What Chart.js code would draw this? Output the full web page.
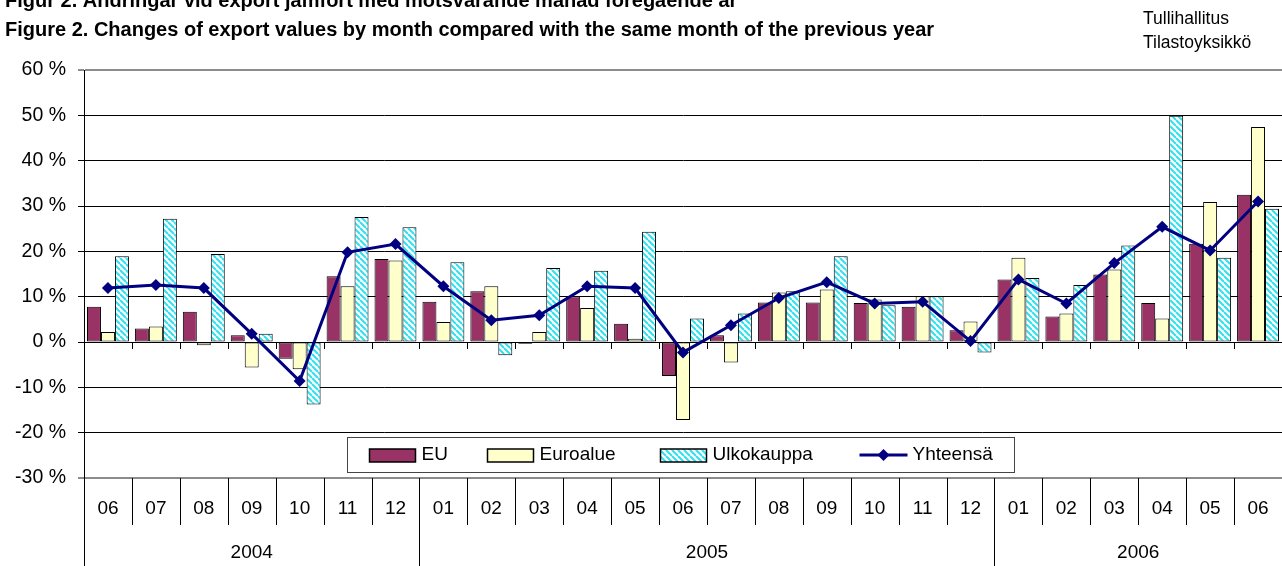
<!DOCTYPE html>
<html>
<head>
<meta charset="utf-8">
<script src="https://cdn.jsdelivr.net/npm/chart.js@4/dist/chart.umd.min.js"></script>
<style>
  html, body { margin: 0; padding: 0; background: #fff; }
  #wrap { width: 1282px; height: 566px; }
</style>
</head>
<body>
<div id="wrap"><canvas id="myChart" width="1282" height="566"></canvas></div>
<script>
//////////// Data ////////////
const months = ['06','07','08','09','10','11','12',
                '01','02','03','04','05','06','07','08','09','10','11','12',
                '01','02','03','04','05','06'];
const years = ['2004', '2005', '2006'];
const yearSpans = [7, 12, 6];   // months per year in the axis

const euValues   = [7.8, 3.0, 6.7, 1.5, -3.7, 14.5, 18.3,
                    8.9, 11.2, -0.4, 10.1, 4.0, -7.5, 1.5, 8.7, 8.7, 8.6, 7.8, 2.6,
                    13.8, 5.6, 14.9, 8.6, 21.7, 32.5];
const euroValues = [2.2, 3.4, -0.7, -5.6, -6.0, 12.3, 18.0,
                    4.4, 12.3, 2.2, 7.5, 0.7, -17.2, -4.5, 10.9, 11.6, 9.4, 10.1, 4.5,
                    18.6, 6.3, 16.0, 5.2, 30.9, 47.4];
const ulkoValues = [18.9, 27.2, 19.4, 1.8, -13.8, 27.6, 25.3,
                    17.6, -2.9, 16.3, 15.7, 24.3, 5.2, 6.3, 11.2, 18.9, 8.1, 10.1, -2.3,
                    14.1, 12.6, 21.3, 49.9, 18.6, 29.4];
const totalValues = [11.9, 12.6, 11.9, 1.8, -8.6, 19.8, 21.6,
                     12.3, 4.8, 5.9, 12.3, 11.9, -2.3, 3.7, 9.7, 13.2, 8.5, 8.9, 0.2,
                     13.8, 8.5, 17.4, 25.4, 20.2, 31.0];

const titleSv = 'Figur 2. Ändringar vid export jämfört med motsvarande månad föregående år';
const titleEn = 'Figure 2. Changes of export values by month compared with the same month of the previous year';
const sourceLines = ['Tullihallitus', 'Tilastoyksikkö'];

const FONT = '"Liberation Sans", Arial, sans-serif';

//////////// Hatch pattern for Ulkokauppa ////////////
function makeHatch() {
    const n = 6;
    const c = document.createElement('canvas');
    c.width = n; c.height = n;
    const g = c.getContext('2d');
    g.fillStyle = '#fff';
    g.fillRect(0, 0, n, n);
    g.strokeStyle = '#2FE0F0';
    g.lineWidth = 2;
    for (const k of [-n, 0, n]) {
        g.beginPath();
        g.moveTo(k, 0);
        g.lineTo(k + n, n);
        g.stroke();
    }
    return document.getElementById('myChart').getContext('2d').createPattern(c, 'repeat');
}
const hatch = makeHatch();

//////////// Titles ////////////
const titles = {
    id: 'titles',
    afterDraw(chart) {
        const { ctx } = chart;
        ctx.save();
        ctx.fillStyle = '#000';
        ctx.textBaseline = 'alphabetic';
        ctx.textAlign = 'left';
        ctx.font = 'bold 20px ' + FONT;
        ctx.fillText(titleSv, 5, 7);
        ctx.fillText(titleEn, 5, 36);
        ctx.font = '17.5px ' + FONT;
        ctx.fillText(sourceLines[0], 1143, 24);
        ctx.fillText(sourceLines[1], 1143, 48);
        ctx.restore();
    }
};

//////////// Zero axis ticks + bottom category labels ////////////
const bottomAxis = {
    id: 'bottomAxis',
    afterDatasetsDraw(chart) {
        const { ctx, scales: { x, y }, chartArea: { left, bottom }, height } = chart;
        const y0 = y.getPixelForValue(0);
        const half = (x.getPixelForValue(1) - x.getPixelForValue(0)) / 2;
        ctx.save();
        ctx.strokeStyle = '#000';
        ctx.lineWidth = 1;
        // small ticks below the zero line
        ctx.beginPath();
        for (let i = 1; i < months.length; i++) {
            const bx = Math.round(x.getPixelForValue(i) - half) + 0.5;
            ctx.moveTo(bx, y0);
            ctx.lineTo(bx, y0 + 7);
        }
        ctx.stroke();

        // left line below the plot
        ctx.beginPath();
        ctx.moveTo(left + 0.5, bottom);
        ctx.lineTo(left + 0.5, height);
        ctx.stroke();

        // month separators (year boundaries go all the way down)
        const yearStarts = [];
        let acc = 0;
        yearSpans.forEach(s => { yearStarts.push(acc); acc += s; });
        ctx.beginPath();
        for (let i = 1; i < months.length; i++) {
            const bx = Math.round(x.getPixelForValue(i) - half) + 0.5;
            ctx.moveTo(bx, bottom);
            ctx.lineTo(bx, yearStarts.includes(i) ? height : bottom + 47);
        }
        ctx.stroke();

        ctx.fillStyle = '#000';
        ctx.font = '19px ' + FONT;
        ctx.textAlign = 'center';
        ctx.textBaseline = 'middle';
        months.forEach((m, i) => ctx.fillText(m, x.getPixelForValue(i), bottom + 31));
        years.forEach((yr, j) => {
            const a = yearStarts[j], b = a + yearSpans[j] - 1;
            const cx = (x.getPixelForValue(a) + x.getPixelForValue(b)) / 2;
            ctx.fillText(yr, cx, bottom + 75);
        });
        ctx.restore();
    }
};

//////////// Legend inside the plot ////////////
const legendBox = {
    id: 'legendBox',
    afterDatasetsDraw(chart) {
        const { ctx, scales: { y }, chartArea: { left, right } } = chart;
        const bw = 667, bh = 35;
        const bx = Math.round((left + right) / 2 - bw / 2) - 2.5;
        const by = Math.round(y.getPixelForValue(-20)) + 4.5;
        ctx.save();
        ctx.fillStyle = '#fff';
        ctx.fillRect(bx, by, bw, bh);
        ctx.strokeStyle = '#444';
        ctx.lineWidth = 1;
        ctx.strokeRect(bx, by, bw, bh);

        const offsets = [22, 140, 313, 512];
        const cy = by + bh / 2;
        ctx.font = '19px ' + FONT;
        ctx.textBaseline = 'middle';
        ctx.textAlign = 'left';
        const order = [1, 2, 3, 0];   // bars first, line last
        order.forEach((di, k) => {
            const ds = chart.data.datasets[di];
            const sx = bx + offsets[k];
            if (ds.type === 'line') {
                ctx.strokeStyle = ds.borderColor;
                ctx.lineWidth = 3;
                ctx.beginPath();
                ctx.moveTo(sx, cy);
                ctx.lineTo(sx + 48, cy);
                ctx.stroke();
                ctx.fillStyle = ds.borderColor;
                ctx.beginPath();
                ctx.moveTo(sx + 24, cy - 6);
                ctx.lineTo(sx + 30, cy);
                ctx.lineTo(sx + 24, cy + 6);
                ctx.lineTo(sx + 18, cy);
                ctx.closePath();
                ctx.fill();
                ctx.fillStyle = '#000';
                ctx.fillText(ds.label, sx + 53, cy);
            } else {
                ctx.fillStyle = ds.backgroundColor;
                ctx.fillRect(sx, cy - 6, 46, 13);
                ctx.strokeStyle = '#000';
                ctx.lineWidth = 1.5;
                ctx.strokeRect(sx, cy - 6, 46, 13);
                ctx.fillStyle = '#000';
                ctx.fillText(ds.label, sx + 52, cy);
            }
        });
        ctx.restore();
    }
};

//////////// Chart ////////////
const barCommon = {
    type: 'bar',
    borderColor: '#000',
    borderWidth: 1,
    borderSkipped: false,
    categoryPercentage: 0.875,
    barPercentage: 1.0,
    order: 2
};

new Chart(document.getElementById('myChart').getContext('2d'), {
    data: {
        labels: months,
        datasets: [{
            type: 'line',
            label: 'Yhteensä',
            data: totalValues,
            borderColor: '#000080',
            backgroundColor: '#000080',
            borderWidth: 3,
            pointStyle: 'rectRot',
            pointRadius: 6,
            pointBorderWidth: 0,
            tension: 0,
            clip: false,
            order: 0
        }, {
            ...barCommon,
            label: 'EU',
            data: euValues,
            backgroundColor: '#993366'
        }, {
            ...barCommon,
            label: 'Euroalue',
            data: euroValues,
            backgroundColor: '#FFFFCC'
        }, {
            ...barCommon,
            label: 'Ulkokauppa',
            data: ulkoValues,
            backgroundColor: hatch
        }]
    },
    options: {
        responsive: false,
        animation: false,
        layout: { autoPadding: false, padding: { top: 70, bottom: 88, left: 0, right: 0 } },
        plugins: {
            legend: { display: false },
            tooltip: { enabled: false }
        },
        scales: {
            x: {
                display: false,
                offset: true
            },
            y: {
                min: -30,
                max: 60,
                afterFit(scale) { scale.width = 84; },
                ticks: {
                    stepSize: 10,
                    padding: 12,
                    color: '#000',
                    font: { family: FONT, size: 19.5 },
                    callback: v => v + ' %'
                },
                grid: {
                    tickLength: 6,
                    color: c => (c.tick && (c.tick.value === 60 || c.tick.value === -30)) ? '#8c8c8c' : '#000',
                    lineWidth: c => (c.tick && (c.tick.value === 60 || c.tick.value === -30)) ? 2 : 1
                },
                border: { display: true, color: '#000', width: 1 }
            }
        }
    },
    plugins: [bottomAxis, legendBox, titles]
});
</script>
</body>
</html>
